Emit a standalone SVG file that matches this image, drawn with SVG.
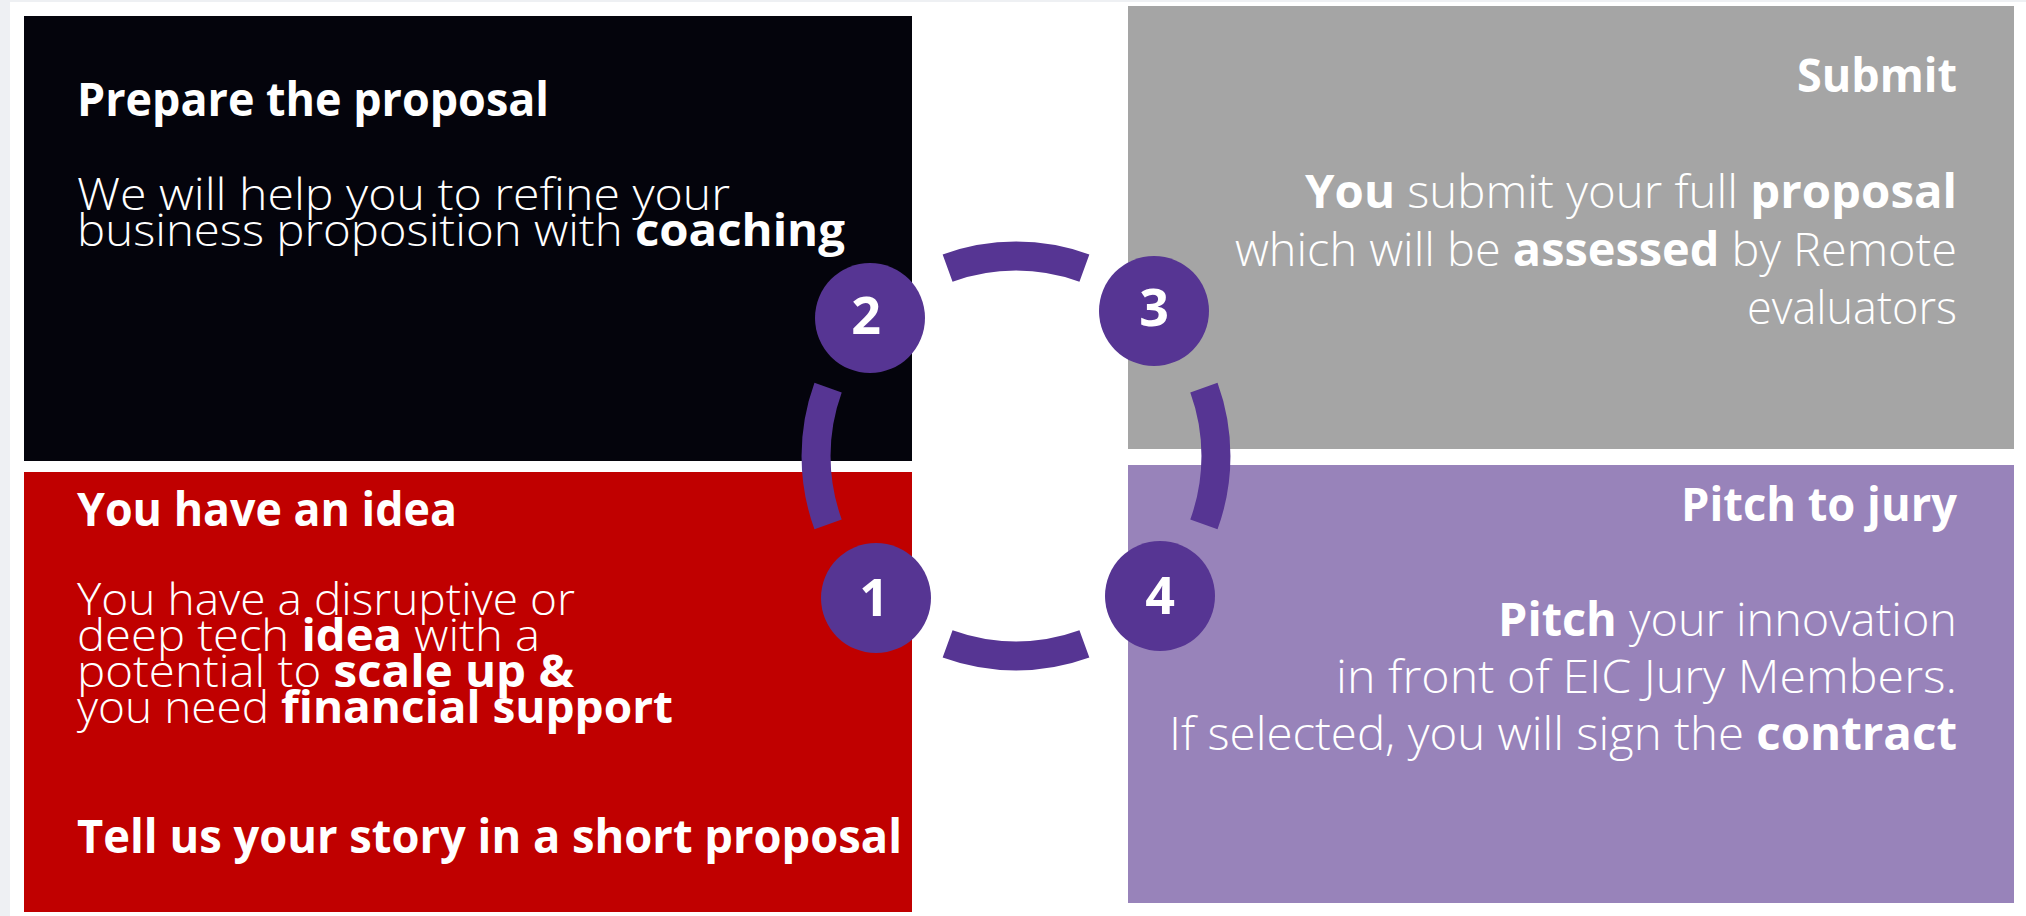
<svg xmlns="http://www.w3.org/2000/svg" width="2026" height="916" viewBox="0 0 2026 916">
  <style>
    .t { font-family: "Open Sans", "Noto Sans", "Liberation Sans", sans-serif; font-size: 46px; fill: #ffffff; font-weight: 350; }
    .s { font-size: 44px; }
    .b { font-weight: 700; }
    .num { font-family: "Open Sans", "Noto Sans", "Liberation Sans", sans-serif; font-size: 52px; font-weight: 700; fill: #ffffff; text-anchor: middle; }
    .arc { fill: none; stroke: #563593; stroke-width: 29; stroke-linecap: butt; }
    .dot { fill: #563593; }
  </style>
  <rect x="0" y="0" width="2026" height="916" fill="#eef0f3"/>
  <rect x="10" y="2" width="2016" height="914" fill="#ffffff"/>

  <g id="node-prepare">
    <rect x="24" y="16" width="888" height="445" fill="#04040c"/>
    <text class="t b" x="77" y="116" textLength="472" lengthAdjust="spacingAndGlyphs">Prepare the proposal</text>
    <text class="t s" x="77" y="210" textLength="653" lengthAdjust="spacingAndGlyphs">We will help you to refine your</text>
    <text class="t s" x="77" y="246" textLength="768" lengthAdjust="spacingAndGlyphs">business proposition with <tspan class="b">coaching</tspan></text>
  </g>

  <g id="node-idea">
    <rect x="24" y="472" width="888" height="440" fill="#c00000"/>
    <text class="t b" x="77" y="526" textLength="380" lengthAdjust="spacingAndGlyphs">You have an idea</text>
    <text class="t s" x="77" y="615" textLength="498" lengthAdjust="spacingAndGlyphs">You have a disruptive or</text>
    <text class="t s" x="77" y="651" textLength="463" lengthAdjust="spacingAndGlyphs">deep tech <tspan class="b">idea</tspan> with a</text>
    <text class="t s" x="77" y="687" textLength="497" lengthAdjust="spacingAndGlyphs">potential to <tspan class="b">scale up &amp;</tspan></text>
    <text class="t s" x="77" y="723" textLength="596" lengthAdjust="spacingAndGlyphs">you need <tspan class="b">financial support</tspan></text>
    <text class="t b" x="77" y="853" textLength="825" lengthAdjust="spacingAndGlyphs">Tell us your story in a short proposal</text>
  </g>

  <g id="node-submit">
    <rect x="1128" y="6" width="886" height="443" fill="#a5a5a5"/>
    <text class="t b" x="1957" y="92" text-anchor="end" textLength="160" lengthAdjust="spacingAndGlyphs">Submit</text>
    <text class="t" x="1957" y="208" text-anchor="end" textLength="652" lengthAdjust="spacingAndGlyphs"><tspan class="b">You</tspan> submit your full <tspan class="b">proposal</tspan></text>
    <text class="t" x="1957" y="266" text-anchor="end" textLength="722" lengthAdjust="spacingAndGlyphs">which will be <tspan class="b">assessed</tspan> by Remote</text>
    <text class="t" x="1957" y="324" text-anchor="end" textLength="210" lengthAdjust="spacingAndGlyphs">evaluators</text>
  </g>

  <g id="node-pitch">
    <rect x="1128" y="465" width="886" height="438" fill="#9883ba"/>
    <text class="t b" x="1957" y="521" text-anchor="end" textLength="276" lengthAdjust="spacingAndGlyphs">Pitch to jury</text>
    <text class="t" x="1957" y="636" text-anchor="end" textLength="459" lengthAdjust="spacingAndGlyphs"><tspan class="b">Pitch</tspan> your innovation</text>
    <text class="t" x="1957" y="693" text-anchor="end" textLength="621" lengthAdjust="spacingAndGlyphs">in front of EIC Jury Members.</text>
    <text class="t" x="1957" y="750" text-anchor="end" textLength="788" lengthAdjust="spacingAndGlyphs">If selected, you will sign the <tspan class="b">contract</tspan></text>
  </g>

  <g id="connectors">
    <path class="arc" d="M947.6,268.1 A200,200 0 0 1 1084.4,268.1"/>
    <path class="arc" d="M1203.9,387.6 A200,200 0 0 1 1203.9,524.4"/>
    <path class="arc" d="M1084.4,643.9 A200,200 0 0 1 947.6,643.9"/>
    <path class="arc" d="M828.1,524.4 A200,200 0 0 1 828.1,387.6"/>
  </g>

  <g id="step-1">
    <circle class="dot" cx="876" cy="598" r="55"/>
    <text class="num" x="874" y="616">1</text>
  </g>
  <g id="step-2">
    <circle class="dot" cx="870" cy="318" r="55"/>
    <text class="num" x="866" y="334">2</text>
  </g>
  <g id="step-3">
    <circle class="dot" cx="1154" cy="311" r="55"/>
    <text class="num" x="1154" y="326">3</text>
  </g>
  <g id="step-4">
    <circle class="dot" cx="1160" cy="596" r="55"/>
    <text class="num" x="1160" y="614">4</text>
  </g>
</svg>
